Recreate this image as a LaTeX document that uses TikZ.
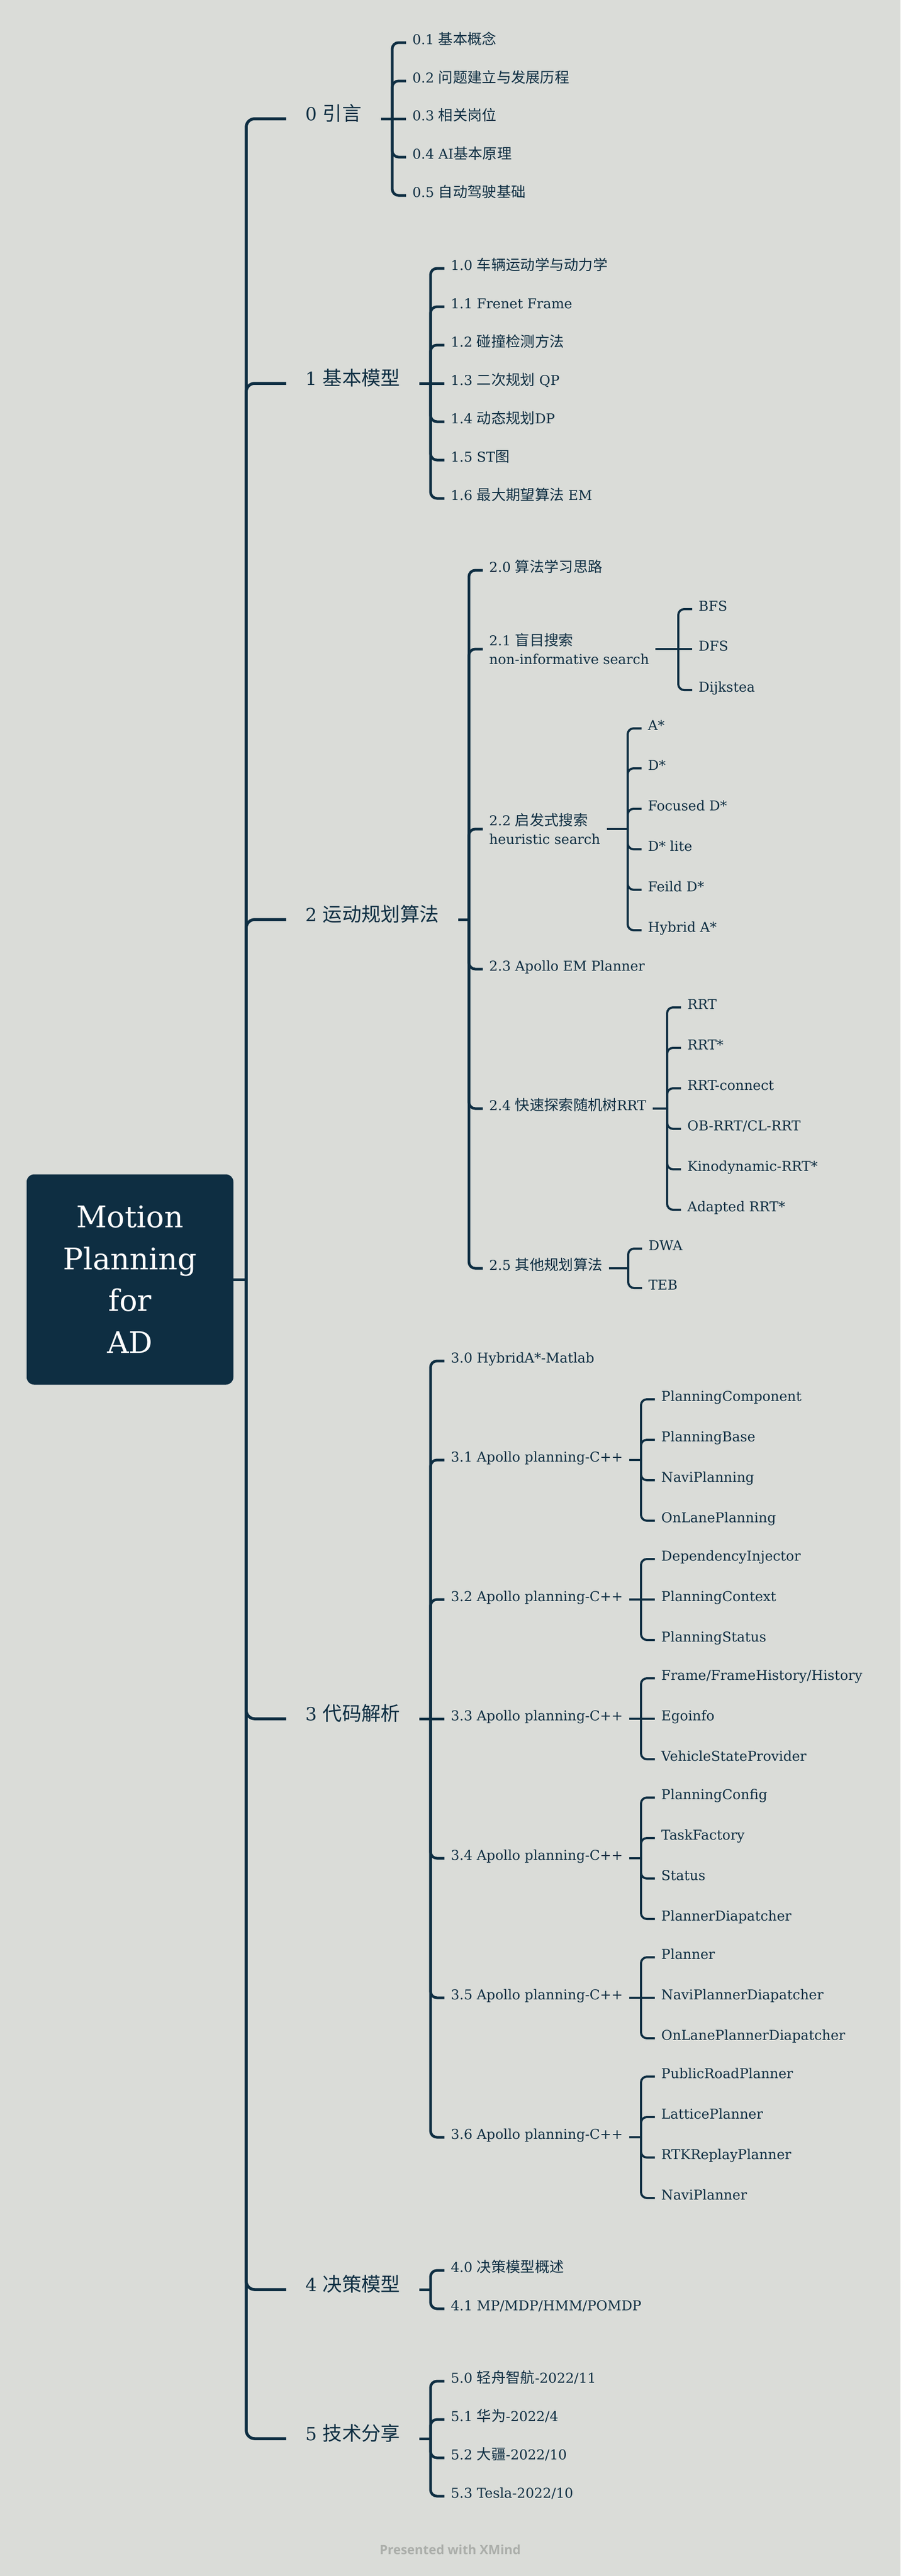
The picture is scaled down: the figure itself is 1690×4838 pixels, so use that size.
\documentclass[tikz,border=0pt]{standalone}
\usepackage{fontspec}
\setmainfont{DejaVu Serif}
\newfontfamily\cjk{Noto Sans CJK SC}[Scale=1.07]
\newfontfamily\footfont{Open Sans}
\usepackage{tikz}
\definecolor{inkblue}{HTML}{0E2E42}
\definecolor{paper}{HTML}{DADCD8}
\definecolor{footgray}{HTML}{ABAEAA}

\begin{document}
\begin{tikzpicture}[x=1pt,y=-1pt,
    root/.style={fill=inkblue, text=white, rounded corners=14pt, minimum width=388pt, minimum height=395pt, align=center, font=\fontsize{56}{78.5}\selectfont},
    topic/.style={anchor=west, inner xsep=36pt, text height=0.85em, text depth=0.15em, font=\fontsize{34}{40}\selectfont},
    leaf/.style={anchor=west, inner xsep=12pt, text height=0.85em, text depth=0.15em, font=\fontsize{25.5}{35}\selectfont},
    pair/.style={anchor=west, inner xsep=12pt, align=left, font=\fontsize{25.5}{35}\selectfont},
    trunk/.style={draw=inkblue, line width=5.5pt, rounded corners=16pt},
    limb/.style={draw=inkblue, line width=5pt, rounded corners=12pt},
    twig/.style={draw=inkblue, line width=4pt, rounded corners=11pt}]
    \tikzstyle{every node}+=[inner sep=0pt, text=inkblue]
    \useasboundingbox (0,0) rectangle (1690,4838);
    \fill[paper] (0,0) rectangle (1690,4838);
    \node[root] (mp) at (244,2403) {Motion\\Planning\\for\\AD};
    \coordinate (tr) at (462,2403);
    \node[topic] (t0) at (537,223) {0 {\cjk 引言}};
    \node[topic] (t1) at (537,720) {1 {\cjk 基本模型}};
    \node[topic] (t2) at (537,1727) {2 {\cjk 运动规划算法}};
    \node[topic] (t3) at (537,3228) {3 {\cjk 代码解析}};
    \node[topic] (t4) at (537,4300) {4 {\cjk 决策模型}};
    \node[topic] (t5) at (537,4580) {5 {\cjk 技术分享}};
    \coordinate (k0) at (736,223);
    \coordinate (k1) at (808,720);
    \coordinate (k2) at (880,1727);
    \coordinate (k3) at (808,3228);
    \coordinate (k4) at (808,4300);
    \coordinate (k5) at (808,4580);
    \node[leaf] (c01) at (762,80) {0.1 {\cjk 基本概念}};
    \node[leaf] (c02) at (762,152) {0.2 {\cjk 问题建立与发展历程}};
    \node[leaf] (c03) at (762,223) {0.3 {\cjk 相关岗位}};
    \node[leaf] (c04) at (762,295) {0.4 AI{\cjk 基本原理}};
    \node[leaf] (c05) at (762,367) {0.5 {\cjk 自动驾驶基础}};
    \node[leaf] (c10) at (834,504) {1.0 {\cjk 车辆运动学与动力学}};
    \node[leaf] (c11) at (834,576) {1.1 Frenet Frame};
    \node[leaf] (c12) at (834,648) {1.2 {\cjk 碰撞检测方法}};
    \node[leaf] (c13) at (834,720) {1.3 {\cjk 二次规划} QP};
    \node[leaf] (c14) at (834,792) {1.4 {\cjk 动态规划}DP};
    \node[leaf] (c15) at (834,864) {1.5 ST{\cjk 图}};
    \node[leaf] (c16) at (834,936) {1.6 {\cjk 最大期望算法} EM};
    \node[leaf] (c20) at (906,1071) {2.0 {\cjk 算法学习思路}};
    \node[pair] (c21) at (906,1219) {2.1 {\cjk 盲目搜索}\\non-informative search};
    \node[pair] (c22) at (906,1557) {2.2 {\cjk 启发式搜索}\\heuristic search};
    \node[leaf] (c23) at (906,1820) {2.3 Apollo EM Planner};
    \node[leaf] (c24) at (906,2082) {2.4 {\cjk 快速探索随机树}RRT};
    \node[leaf] (c25) at (906,2382) {2.5 {\cjk 其他规划算法}};
    \coordinate (k21) at (1273,1219);
    \coordinate (k22) at (1178,1557);
    \coordinate (k24) at (1252,2082);
    \coordinate (k25) at (1179,2382);
    \node[leaf] (c21a) at (1299,1144) {BFS};
    \node[leaf] (c21b) at (1299,1219) {DFS};
    \node[leaf] (c21c) at (1299,1296) {Dijkstea};
    \node[leaf] (c22a) at (1204,1368) {A*};
    \node[leaf] (c22b) at (1204,1443) {D*};
    \node[leaf] (c22c) at (1204,1519) {Focused D*};
    \node[leaf] (c22d) at (1204,1595) {D* lite};
    \node[leaf] (c22e) at (1204,1671) {Feild D*};
    \node[leaf] (c22f) at (1204,1747) {Hybrid A*};
    \node[leaf] (c24a) at (1278,1892) {RRT};
    \node[leaf] (c24b) at (1278,1968) {RRT*};
    \node[leaf] (c24c) at (1278,2044) {RRT-connect};
    \node[leaf] (c24d) at (1278,2120) {OB-RRT/CL-RRT};
    \node[leaf] (c24e) at (1278,2196) {Kinodynamic-RRT*};
    \node[leaf] (c24f) at (1278,2272) {Adapted RRT*};
    \node[leaf] (c25a) at (1205,2345) {DWA};
    \node[leaf] (c25b) at (1205,2419) {TEB};
    \node[leaf] (c30) at (834,2556) {3.0 HybridA*-Matlab};
    \node[leaf] (c31) at (834,2742) {3.1 Apollo planning-C++};
    \node[leaf] (c32) at (834,3004) {3.2 Apollo planning-C++};
    \node[leaf] (c33) at (834,3228) {3.3 Apollo planning-C++};
    \node[leaf] (c34) at (834,3490) {3.4 Apollo planning-C++};
    \node[leaf] (c35) at (834,3752) {3.5 Apollo planning-C++};
    \node[leaf] (c36) at (834,4014) {3.6 Apollo planning-C++};
    \coordinate (k31) at (1203,2742);
    \coordinate (k32) at (1203,3004);
    \coordinate (k33) at (1203,3228);
    \coordinate (k34) at (1203,3490);
    \coordinate (k35) at (1203,3752);
    \coordinate (k36) at (1203,4014);
    \node[leaf] (c31a) at (1229,2628) {PlanningComponent};
    \node[leaf] (c31b) at (1229,2704) {PlanningBase};
    \node[leaf] (c31c) at (1229,2780) {NaviPlanning};
    \node[leaf] (c31d) at (1229,2856) {OnLanePlanning};
    \node[leaf] (c32a) at (1229,2928) {DependencyInjector};
    \node[leaf] (c32b) at (1229,3004) {PlanningContext};
    \node[leaf] (c32c) at (1229,3080) {PlanningStatus};
    \node[leaf] (c33a) at (1229,3152) {Frame/FrameHistory/History};
    \node[leaf] (c33b) at (1229,3228) {Egoinfo};
    \node[leaf] (c33c) at (1229,3304) {VehicleStateProvider};
    \node[leaf] (c34a) at (1229,3376) {PlanningConfig};
    \node[leaf] (c34b) at (1229,3452) {TaskFactory};
    \node[leaf] (c34c) at (1229,3528) {Status};
    \node[leaf] (c34d) at (1229,3604) {PlannerDiapatcher};
    \node[leaf] (c35a) at (1229,3676) {Planner};
    \node[leaf] (c35b) at (1229,3752) {NaviPlannerDiapatcher};
    \node[leaf] (c35c) at (1229,3828) {OnLanePlannerDiapatcher};
    \node[leaf] (c36a) at (1229,3900) {PublicRoadPlanner};
    \node[leaf] (c36b) at (1229,3976) {LatticePlanner};
    \node[leaf] (c36c) at (1229,4052) {RTKReplayPlanner};
    \node[leaf] (c36d) at (1229,4128) {NaviPlanner};
    \node[leaf] (c40) at (834,4264) {4.0 {\cjk 决策模型概述}};
    \node[leaf] (c41) at (834,4336) {4.1 MP/MDP/HMM/POMDP};
    \node[leaf] (c50) at (834,4472) {5.0 {\cjk 轻舟智航}-2022/11};
    \node[leaf] (c51) at (834,4544) {5.1 {\cjk 华为}-2022/4};
    \node[leaf] (c52) at (834,4616) {5.2 {\cjk 大疆}-2022/10};
    \node[leaf] (c53) at (834,4688) {5.3 Tesla-2022/10};
    \node[text=footgray, font=\footfont\bfseries\fontsize{24}{28}\selectfont] (credit) at (845,4788) {Presented with XMind};
    \draw[limb] (mp.east) -- (tr);
    \draw[trunk] (tr) |- (t0.west);
    \draw[trunk] (tr) |- (t1.west);
    \draw[trunk] (tr) |- (t2.west);
    \draw[trunk] (tr) |- (t3.west);
    \draw[trunk] (tr) |- (t4.west);
    \draw[trunk] (tr) |- (t5.west);
    \draw[limb] (t0.east) -- (c03.west);
    \draw[limb] (k0) |- (c01.west);
    \draw[limb] (k0) |- (c02.west);
    \draw[limb] (k0) |- (c04.west);
    \draw[limb] (k0) |- (c05.west);
    \draw[limb] (t1.east) -- (c13.west);
    \draw[limb] (k1) |- (c10.west);
    \draw[limb] (k1) |- (c11.west);
    \draw[limb] (k1) |- (c12.west);
    \draw[limb] (k1) |- (c14.west);
    \draw[limb] (k1) |- (c15.west);
    \draw[limb] (k1) |- (c16.west);
    \draw[limb] (t2.east) -- (k2);
    \draw[limb] (k2) |- (c20.west);
    \draw[limb] (k2) |- (c21.west);
    \draw[limb] (k2) |- (c22.west);
    \draw[limb] (k2) |- (c23.west);
    \draw[limb] (k2) |- (c24.west);
    \draw[limb] (k2) |- (c25.west);
    \draw[twig] (c21.east) -- (c21b.west);
    \draw[twig] (k21) |- (c21a.west);
    \draw[twig] (k21) |- (c21c.west);
    \draw[twig] (c22.east) -- (k22);
    \draw[twig] (k22) |- (c22a.west);
    \draw[twig] (k22) |- (c22b.west);
    \draw[twig] (k22) |- (c22c.west);
    \draw[twig] (k22) |- (c22d.west);
    \draw[twig] (k22) |- (c22e.west);
    \draw[twig] (k22) |- (c22f.west);
    \draw[twig] (c24.east) -- (k24);
    \draw[twig] (k24) |- (c24a.west);
    \draw[twig] (k24) |- (c24b.west);
    \draw[twig] (k24) |- (c24c.west);
    \draw[twig] (k24) |- (c24d.west);
    \draw[twig] (k24) |- (c24e.west);
    \draw[twig] (k24) |- (c24f.west);
    \draw[twig] (c25.east) -- (k25);
    \draw[twig] (k25) |- (c25a.west);
    \draw[twig] (k25) |- (c25b.west);
    \draw[limb] (t3.east) -- (c33.west);
    \draw[limb] (k3) |- (c30.west);
    \draw[limb] (k3) |- (c31.west);
    \draw[limb] (k3) |- (c32.west);
    \draw[limb] (k3) |- (c34.west);
    \draw[limb] (k3) |- (c35.west);
    \draw[limb] (k3) |- (c36.west);
    \draw[twig] (c31.east) -- (k31);
    \draw[twig] (k31) |- (c31a.west);
    \draw[twig] (k31) |- (c31b.west);
    \draw[twig] (k31) |- (c31c.west);
    \draw[twig] (k31) |- (c31d.west);
    \draw[twig] (c32.east) -- (c32b.west);
    \draw[twig] (k32) |- (c32a.west);
    \draw[twig] (k32) |- (c32c.west);
    \draw[twig] (c33.east) -- (c33b.west);
    \draw[twig] (k33) |- (c33a.west);
    \draw[twig] (k33) |- (c33c.west);
    \draw[twig] (c34.east) -- (k34);
    \draw[twig] (k34) |- (c34a.west);
    \draw[twig] (k34) |- (c34b.west);
    \draw[twig] (k34) |- (c34c.west);
    \draw[twig] (k34) |- (c34d.west);
    \draw[twig] (c35.east) -- (c35b.west);
    \draw[twig] (k35) |- (c35a.west);
    \draw[twig] (k35) |- (c35c.west);
    \draw[twig] (c36.east) -- (k36);
    \draw[twig] (k36) |- (c36a.west);
    \draw[twig] (k36) |- (c36b.west);
    \draw[twig] (k36) |- (c36c.west);
    \draw[twig] (k36) |- (c36d.west);
    \draw[limb] (t4.east) -- (k4);
    \draw[limb] (k4) |- (c40.west);
    \draw[limb] (k4) |- (c41.west);
    \draw[limb] (t5.east) -- (k5);
    \draw[limb] (k5) |- (c50.west);
    \draw[limb] (k5) |- (c51.west);
    \draw[limb] (k5) |- (c52.west);
    \draw[limb] (k5) |- (c53.west);
\end{tikzpicture}
\end{document}
